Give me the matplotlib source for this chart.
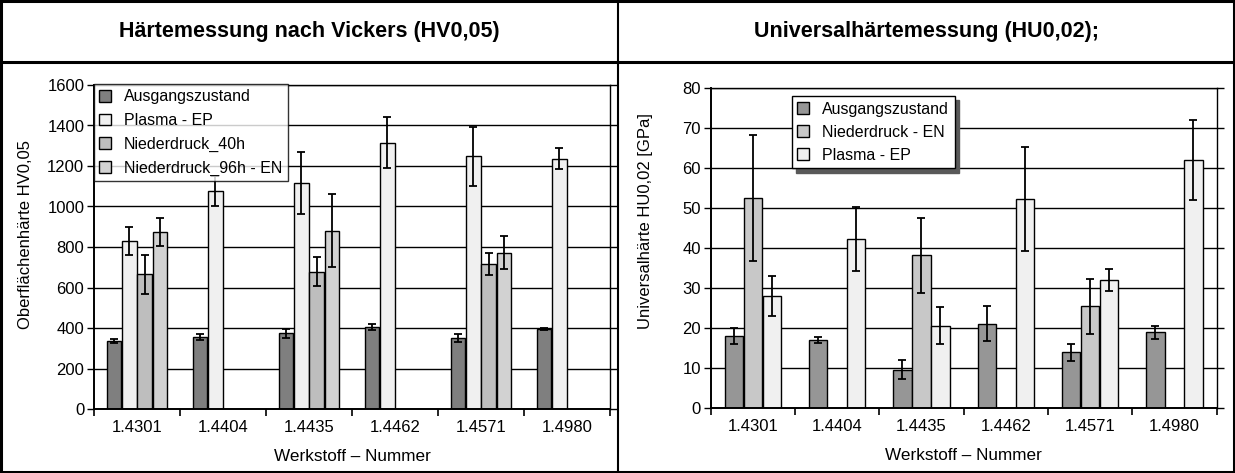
import numpy as np
import matplotlib
matplotlib.use("Agg")
import matplotlib.pyplot as plt
from matplotlib.lines import Line2D
from matplotlib.patches import Rectangle

plt.rcParams['font.family'] = ['Liberation Sans', 'DejaVu Sans']

categories = ["1.4301", "1.4404", "1.4435", "1.4462", "1.4571", "1.4980"]
nan = np.nan

# Left chart: HV0,05
hv_series = ["Ausgangszustand", "Plasma - EP", "Niederdruck_40h", "Niederdruck_96h - EN"]
hv_ausgang = [336, 357, 374, 405, 349, 395]
hv_ausgang_err = [8, 15, 23, 15, 20, 5]
hv_plasma = [830, 1077, 1115, 1315, 1248, 1237]
hv_plasma_err = [70, 75, 152, 125, 147, 53]
hv_40h = [665, nan, 678, nan, 715, nan]
hv_40h_err = [96, nan, 72, nan, 55, nan]
hv_96h = [874, nan, 880, nan, 772, nan]
hv_96h_err = [70, nan, 180, nan, 83, nan]

# Right chart: HU0,02
hu_series = ["Ausgangszustand", "Niederdruck - EN", "Plasma - EP"]
hu_ausgang = [17.9, 16.9, 9.5, 21.0, 13.8, 18.8]
hu_ausgang_err = [2.0, 0.7, 2.4, 4.3, 2.1, 1.7]
hu_en = [52.5, nan, 38.1, nan, 25.3, nan]
hu_en_err = [15.7, nan, 9.4, nan, 6.8, nan]
hu_plasma = [27.9, 42.3, 20.5, 52.2, 32.0, 61.9]
hu_plasma_err = [5.0, 8.0, 4.6, 13.0, 2.8, 10.0]

title_left = "Härtemessung nach Vickers (HV0,05)"
title_right = "Universalhärtemessung (HU0,02);"
ylabel_left = "Oberflächenhärte HV0,05"
ylabel_right = "Universalhärte HU0,02 [GPa]"
xlabel = "Werkstoff – Nummer"

W, H = 1235, 473
fig = plt.figure(figsize=(W / 100, H / 100), dpi=100)

def fx(px):
    return px / W

def fy(py):
    return 1 - py / H

axL = fig.add_axes([fx(94), fy(409), fx(610 - 94), (409 - 85) / H])
axR = fig.add_axes([fx(710.7), fy(407.5), fx(1216.5 - 710.7), (407.5 - 88) / H])

def style_axis(ax, ymax, ystep):
    x = np.arange(len(categories))
    ax.set_xlim(-0.5, len(categories) - 0.5)
    ax.set_ylim(0, ymax)
    ax.set_yticks(np.arange(0, ymax + ystep / 2, ystep))
    ax.set_xticks(x)
    ax.set_xticklabels(categories, fontsize=12)
    ax.set_xticks(np.arange(-0.5, len(categories)), minor=True)
    ax.tick_params(axis='x', which='major', length=0, pad=8)
    ax.tick_params(axis='x', which='minor', length=5, width=1.2, direction='out', color='black')
    ax.tick_params(axis='y', which='major', length=5, width=1.0, labelsize=12, pad=2,
                   right=True, direction='out')
    ax.yaxis.grid(True, color='black', linewidth=1.0)
    ax.set_axisbelow(True)
    for s in ax.spines.values():
        s.set_linewidth(1.0)
    ax.spines['left'].set_linewidth(1.4)
    ax.spines['bottom'].set_linewidth(1.4)

# Left bars
x = np.arange(len(categories))
wL = 0.18
colorsL = ['#7f7f7f', '#f0f0f0', '#bebebe', '#d2d2d2']
valsL = [hv_ausgang, hv_plasma, hv_40h, hv_96h]
errsL = [hv_ausgang_err, hv_plasma_err, hv_40h_err, hv_96h_err]
for i, (v, e, c, lab) in enumerate(zip(valsL, errsL, colorsL, hv_series)):
    pos = x + (i - 1.5) * wL
    axL.bar(pos, v, width=wL * 0.94, color=c, edgecolor='black', linewidth=1.0, label=lab, zorder=2)
    axL.errorbar(pos, v, yerr=e, fmt='none', ecolor='black', elinewidth=1.3, capsize=3,
                 capthick=1.3, zorder=3)
style_axis(axL, 1600, 200)

# Right bars
wR = 0.225
colorsR = ['#969696', '#c8c8c8', '#f0f0f0']
valsR = [hu_ausgang, hu_en, hu_plasma]
errsR = [hu_ausgang_err, hu_en_err, hu_plasma_err]
for i, (v, e, c, lab) in enumerate(zip(valsR, errsR, colorsR, hu_series)):
    pos = x + (i - 1) * wR
    axR.bar(pos, v, width=wR * 0.97, color=c, edgecolor='black', linewidth=1.0, label=lab, zorder=2)
    axR.errorbar(pos, v, yerr=e, fmt='none', ecolor='black', elinewidth=1.3, capsize=3,
                 capthick=1.3, zorder=3)
style_axis(axR, 80, 10)

axL.set_ylabel(ylabel_left, fontsize=12)
axR.set_ylabel(ylabel_right, fontsize=12)
axL.yaxis.set_label_coords(-0.118, 0.54)
axR.yaxis.set_label_coords(-0.114, 0.584)
axL.set_xlabel(xlabel, fontsize=12.3, labelpad=10)
axR.set_xlabel(xlabel, fontsize=12.3, labelpad=10)

legL = axL.legend(loc='upper left', bbox_to_anchor=(0.0, 1.003), borderaxespad=0,
                  fontsize=11.5, frameon=True, fancybox=False, edgecolor='black',
                  handlelength=0.75, handleheight=0.75, handletextpad=0.8,
                  labelspacing=0.55, borderpad=0.33)
legL.get_frame().set_linewidth(1.0)
legL.set_zorder(5)

legR = axR.legend(loc='upper left', bbox_to_anchor=(0.16, 0.975), borderaxespad=0,
                  fontsize=11.5, frameon=True, fancybox=False, edgecolor='black',
                  handlelength=0.75, handleheight=0.75, handletextpad=0.8,
                  labelspacing=0.5, borderpad=0.36,
                  shadow={'color': '0.35', 'alpha': 1.0, 'ox': 3, 'oy': -3})
legR.get_frame().set_linewidth(1.0)
legR.set_zorder(5)

# Titles
fig.text(fx(309), fy(31), title_left, fontsize=15.5, fontweight='bold', ha='center', va='center')
fig.text(fx(927), fy(31), title_right, fontsize=15.5, fontweight='bold', ha='center', va='center')

# Frame and dividers
fig.add_artist(Rectangle((fx(1), fy(472)), fx(1233), (471) / H, transform=fig.transFigure,
                         fill=False, edgecolor='black', linewidth=2.2))
fig.add_artist(Line2D([0, 1], [fy(62), fy(62)], transform=fig.transFigure, color='black', linewidth=2.2))
fig.add_artist(Line2D([fx(618), fx(618)], [0, 1], transform=fig.transFigure, color='black', linewidth=1.5))

fig.savefig("out.png", dpi=100)
